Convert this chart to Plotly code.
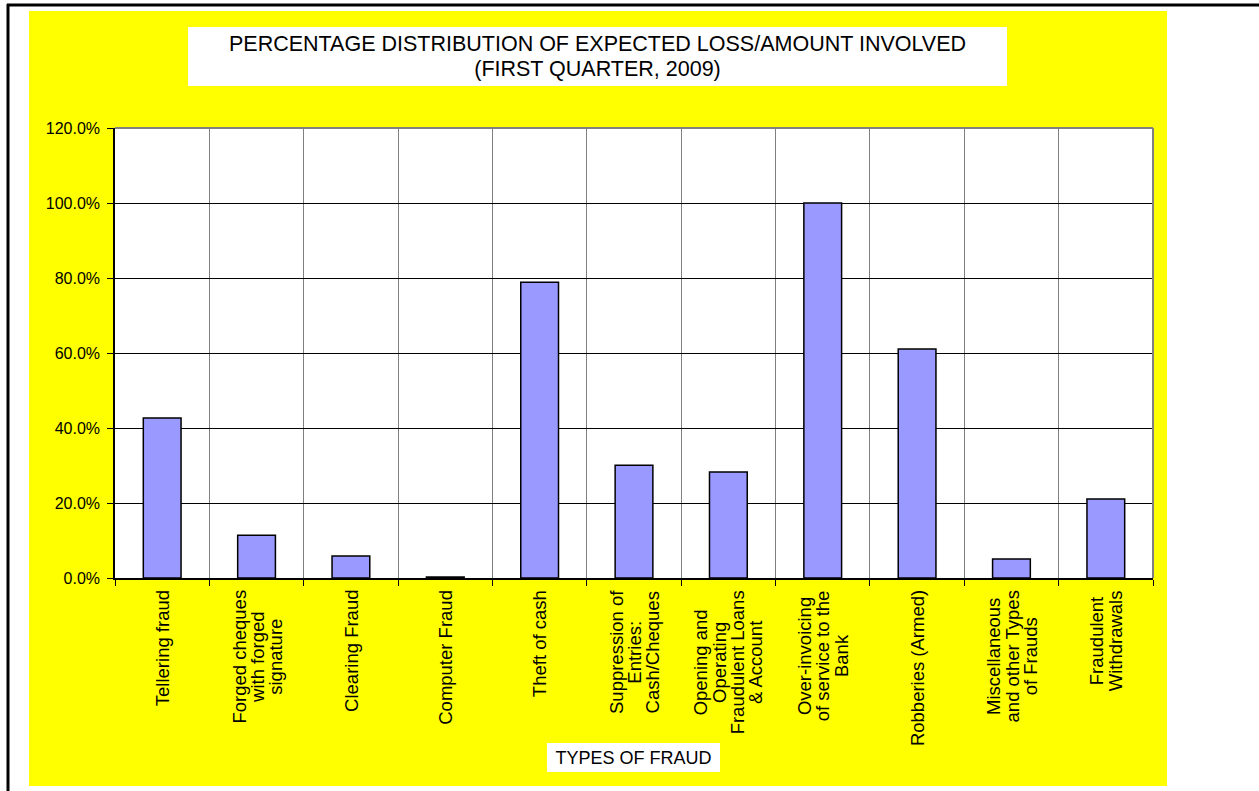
import plotly.graph_objects as go

categories = [
    "Tellering fraud",
    "Forged cheques<br>with forged<br>signature",
    "Clearing Fraud",
    "Computer Fraud",
    "Theft of cash",
    "Suppression of<br>Entries:<br>Cash/Cheques",
    "Opening and<br>Operating<br>Fraudulent Loans<br>& Account",
    "Over-invoicing<br>of service to the<br>Bank",
    "Robberies (Armed)",
    "Miscellaneous<br>and other Types<br>of Frauds",
    "Fraudulent<br>Withdrawals",
]
values = [0.427, 0.114, 0.059, 0.003, 0.789, 0.301, 0.283, 1.000, 0.611, 0.051, 0.211]
y_ticks = [0.0, 0.2, 0.4, 0.6, 0.8, 1.0, 1.2]

title_lines = ["PERCENTAGE DISTRIBUTION OF EXPECTED LOSS/AMOUNT INVOLVED", "(FIRST QUARTER, 2009)"]
xaxis_title = "TYPES OF FRAUD"

FONT = "Liberation Sans, Arial, sans-serif"
W, H = 1259, 791
L, R, T, B = 115, 1153, 128, 578
PW, PH = R - L, B - T


def px(x):
    return (x - L) / PW


def py(y):
    return (B - y) / PH


fig = go.Figure()
fig.add_trace(go.Bar(
    x=list(range(len(categories))),
    y=values,
    marker=dict(color="#9999FF", line=dict(color="#000000", width=1.5)),
    hoverinfo="skip",
))

shapes = [
    # yellow chart area
    dict(type="rect", xref="paper", yref="paper", layer="below",
         x0=px(29), x1=px(1167), y0=py(786), y1=py(11),
         fillcolor="#FFFF00", line=dict(width=0)),
    # white plot area
    dict(type="rect", xref="paper", yref="paper", layer="below",
         x0=0, x1=1, y0=0, y1=1,
         fillcolor="#FFFFFF", line=dict(width=0)),
    # page border lines
    dict(type="line", xref="paper", yref="paper", x0=px(7), x1=px(1300),
         y0=py(5), y1=py(5), line=dict(color="#000000", width=3)),
    dict(type="line", xref="paper", yref="paper", x0=px(8), x1=px(8),
         y0=py(4), y1=py(800), line=dict(color="#000000", width=3)),
    # gray plot border top and right
    dict(type="line", xref="paper", yref="paper", x0=0, x1=1, y0=1, y1=1,
         line=dict(color="#808080", width=2)),
    dict(type="line", xref="paper", yref="paper", x0=1, x1=1, y0=0, y1=1,
         line=dict(color="#808080", width=2)),
]

annotations = []
for i, lab in enumerate(categories):
    parts = lab.split("<br>")
    txt = "<br>".join('<span style="font-size:18.5px">%s</span>' % p for p in parts)
    annotations.append(dict(
        x=i, xref="x", y=0, yref="paper", yshift=-11,
        xanchor="center", yanchor="top", textangle=-90, align="center",
        text=txt, showarrow=False, borderpad=0,
        font=dict(family=FONT, size=14, color="#000000"),
    ))

title_txt = "<br>".join('<span style="font-size:21.5px">%s</span>' % p for p in title_lines)
annotations.append(dict(
    x=px(597.5), xref="paper", y=py(56.5), yref="paper",
    xanchor="center", yanchor="middle", text=title_txt, showarrow=False,
    width=819, height=59, bgcolor="#FFFFFF", borderpad=0, borderwidth=0,
    font=dict(family=FONT, size=19, color="#000000"),
))
annotations.append(dict(
    x=px(633.5), xref="paper", y=py(757.5), yref="paper",
    xanchor="center", yanchor="middle", text=xaxis_title, showarrow=False,
    width=173, height=29, bgcolor="#FFFFFF", borderpad=0, borderwidth=0,
    font=dict(family=FONT, size=18, color="#000000"),
))

fig.update_layout(
    width=W, height=H,
    margin=dict(l=L, r=W - R, t=T, b=H - B, pad=0),
    paper_bgcolor="#FFFFFF",
    plot_bgcolor="#FFFFFF",
    showlegend=False,
    bargap=0.6,
    shapes=shapes,
    annotations=annotations,
    font=dict(family=FONT, size=16, color="#000000"),
    xaxis=dict(
        type="linear", range=[-0.5, len(categories) - 0.5],
        tickmode="array", tickvals=[i - 0.5 for i in range(len(categories) + 1)],
        showticklabels=False,
        ticks="outside", ticklen=6, tickcolor="#000000", tickwidth=1,
        showgrid=True, gridcolor="#808080", gridwidth=1,
        showline=True, linecolor="#000000", linewidth=1.5,
        zeroline=False,
    ),
    yaxis=dict(
        range=[0, 1.2], tickvals=y_ticks, tickformat=".1%",
        ticks="outside", ticklen=6, tickcolor="#000000", tickwidth=1,
        ticklabelstandoff=4,
        showgrid=True, gridcolor="#000000", gridwidth=1,
        showline=True, linecolor="#000000", linewidth=1.5,
        zeroline=False,
        tickfont=dict(family=FONT, size=16, color="#000000"),
    ),
)

fig.write_html("out.html")
